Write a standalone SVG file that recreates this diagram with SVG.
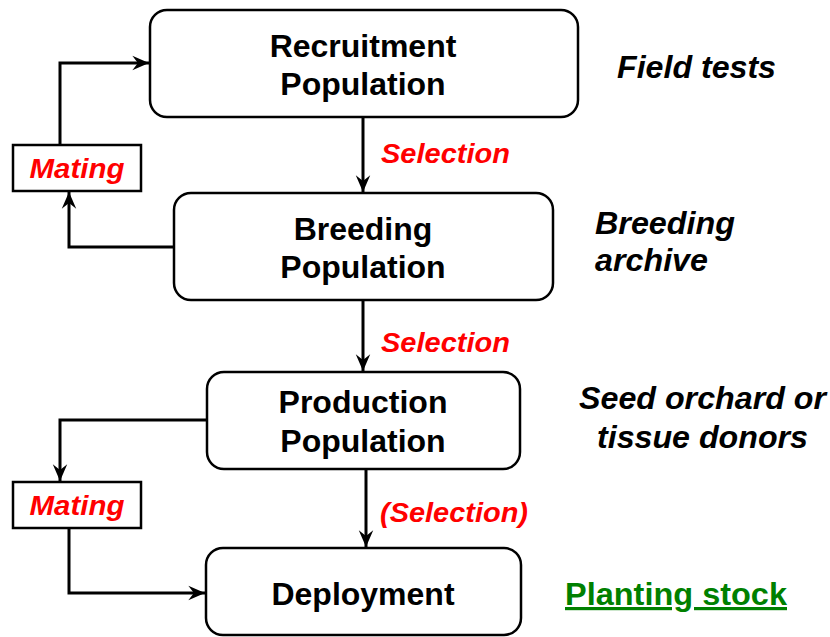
<svg xmlns="http://www.w3.org/2000/svg" width="830" height="637" viewBox="0 0 830 637">
  <defs>
    <marker id="arrow" markerUnits="userSpaceOnUse" markerWidth="20" markerHeight="20" viewBox="-16 -8 18 16" refX="0" refY="0" orient="auto">
      <path d="M0,0 L-15,-6.5 L-10,0 L-15,6.5 Z" fill="#000"/>
    </marker>
  </defs>
  <style>
    .box { fill: #fff; stroke: #000; stroke-width: 2.5; }
    .mate { fill: #fff; stroke: #000; stroke-width: 2.5; }
    .conn { fill: none; stroke: #000; stroke-width: 3; marker-end: url(#arrow); }
    .title { font-family: "Liberation Sans", Arial, sans-serif; font-weight: bold; font-size: 32px; fill: #000; text-anchor: middle; }
    .red { font-family: "Liberation Sans", Arial, sans-serif; font-weight: bold; font-style: italic; font-size: 28px; fill: #ff0000; }
    .note { font-family: "Liberation Sans", Arial, sans-serif; font-weight: bold; font-style: italic; font-size: 32px; fill: #000; }
    .green { font-family: "Liberation Sans", Arial, sans-serif; font-weight: bold; font-size: 32px; fill: #008000; text-decoration: underline; }
  </style>
  <rect width="830" height="637" fill="#fff"/>

  <!-- connectors -->
  <g id="connectors">
    <path class="conn" d="M60,145 V63 H149"/>
    <path class="conn" d="M174,247 H69 V192"/>
    <path class="conn" d="M363,117 V192"/>
    <path class="conn" d="M363,300 V371"/>
    <path class="conn" d="M207,420 H60 V481"/>
    <path class="conn" d="M69,528 V593 H205"/>
    <path class="conn" d="M366,469 V547"/>
  </g>

  <g id="recruitment">
    <rect class="box" x="150" y="10" width="428" height="107" rx="17"/>
    <text class="title" x="363" y="57">Recruitment</text>
    <text class="title" x="363" y="95">Population</text>
  </g>

  <g id="breeding">
    <rect class="box" x="174" y="193" width="379" height="107" rx="17"/>
    <text class="title" x="363" y="240">Breeding</text>
    <text class="title" x="363" y="278">Population</text>
  </g>

  <g id="production">
    <rect class="box" x="207" y="372" width="313" height="97" rx="17"/>
    <text class="title" x="363" y="413">Production</text>
    <text class="title" x="363" y="452">Population</text>
  </g>

  <g id="deployment">
    <rect class="box" x="206" y="548" width="315" height="87" rx="17"/>
    <text class="title" x="363" y="605">Deployment</text>
  </g>

  <g id="mating-top">
    <rect class="mate" x="13" y="145" width="128" height="46"/>
    <text class="red" x="77" y="178" text-anchor="middle" textLength="95" lengthAdjust="spacingAndGlyphs">Mating</text>
  </g>

  <g id="mating-bottom">
    <rect class="mate" x="13" y="482" width="128" height="46"/>
    <text class="red" x="77" y="515" text-anchor="middle" textLength="95" lengthAdjust="spacingAndGlyphs">Mating</text>
  </g>

  <!-- selection labels -->
  <g id="selection-labels">
    <text class="red" x="381" y="163" textLength="129" lengthAdjust="spacingAndGlyphs">Selection</text>
    <text class="red" x="381" y="352" textLength="129" lengthAdjust="spacingAndGlyphs">Selection</text>
    <text class="red" x="380" y="522" textLength="148" lengthAdjust="spacingAndGlyphs">(Selection)</text>
  </g>

  <!-- stage notes -->
  <g id="notes">
    <text class="note" x="617" y="78" textLength="159" lengthAdjust="spacingAndGlyphs">Field tests</text>
    <text class="note" x="595" y="234" textLength="140" lengthAdjust="spacingAndGlyphs">Breeding</text>
    <text class="note" x="595" y="271" textLength="113" lengthAdjust="spacingAndGlyphs">archive</text>
    <text class="note" x="579" y="409" textLength="247" lengthAdjust="spacingAndGlyphs">Seed orchard or</text>
    <text class="note" x="597" y="448" textLength="211" lengthAdjust="spacingAndGlyphs">tissue donors</text>
    <text class="green" x="565" y="605" textLength="222" lengthAdjust="spacingAndGlyphs">Planting stock</text>
  </g>
</svg>
